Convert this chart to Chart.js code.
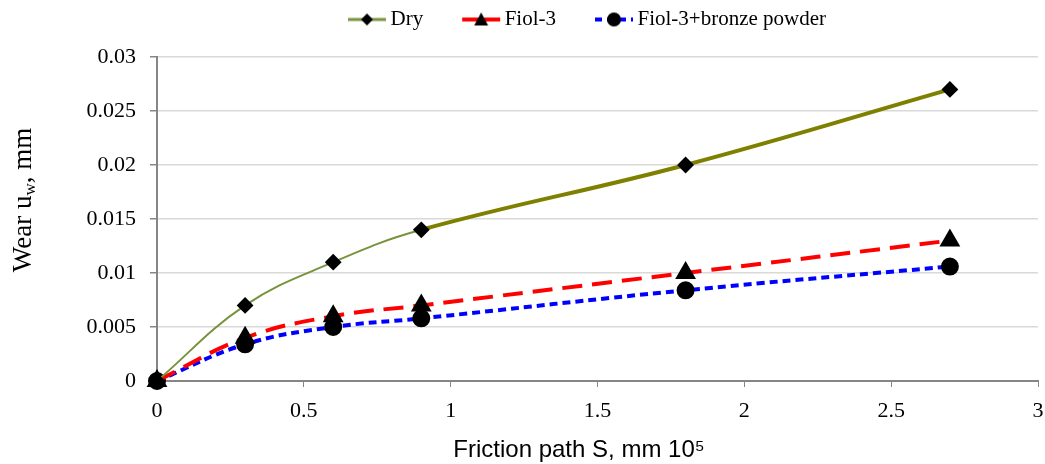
<!DOCTYPE html>
<html>
<head>
<meta charset="utf-8">
<script src="https://cdn.jsdelivr.net/npm/chart.js@4/dist/chart.umd.min.js"></script>
<style>
  html, body { margin: 0; padding: 0; background: #fff; }
  #wrap { width: 1045px; height: 464px; }
</style>
</head>
<body>
<div id="wrap"><canvas id="wearChart"></canvas></div>
<script>
// friction path, mm 10^5
const sPath = [0, 0.3, 0.6, 0.9, 1.8, 2.7];
// wear, mm
const wearDry = [0, 0.007, 0.011, 0.014, 0.020, 0.027];
const wearFiol = [0, 0.004, 0.006, 0.007, 0.010, 0.013];
const wearBronze = [0, 0.0034, 0.005, 0.0058, 0.0084, 0.0106];

const seriesNames = ['Dry', 'Fiol-3', 'Fiol-3+bronze powder'];
const xTicks = [0, 0.5, 1, 1.5, 2, 2.5, 3];
const yTicks = [0, 0.005, 0.01, 0.015, 0.02, 0.025, 0.03];
const xTitle = 'Friction path S, mm 10⁵';

const toPoints = ys => sPath.map((x, i) => ({ x: x, y: ys[i] }));

// line + marker picture for the legend. The legend box is 62 wide and the canvas
// (78 wide) is centred on it; the visible part sits on the right, close to the text,
// so the empty left part works as spacing between the items.
function legendIcon(color, dash, marker, width) {
  const c = document.createElement('canvas');
  c.width = 78; c.height = 18;
  const g = c.getContext('2d');
  g.strokeStyle = color;
  g.lineWidth = width;
  g.setLineDash(dash);
  g.beginPath(); g.moveTo(38, 9); g.lineTo(76, 9); g.stroke();
  g.setLineDash([]);
  g.fillStyle = '#000';
  g.beginPath();
  const m = 57;
  if (marker === 'diamond') {
    g.moveTo(m, 3); g.lineTo(m + 6, 9); g.lineTo(m, 15); g.lineTo(m - 6, 9);
  } else if (marker === 'triangle') {
    g.moveTo(m, 2); g.lineTo(m + 7, 15); g.lineTo(m - 7, 15);
  } else {
    g.arc(m, 9, 7, 0, Math.PI * 2);
  }
  g.closePath(); g.fill();
  return c;
}

const icons = [
  legendIcon('#77933c', [], 'diamond', 3),
  legendIcon('#ff0000', [], 'triangle', 4),
  legendIcon('#0000ff', [7, 5], 'circle', 4)
];

// axis titles: y one needs a subscript, x one sits a bit left of the plot centre
const axisTitles = {
  id: 'axisTitles',
  afterDraw(chart) {
    const ctx = chart.ctx;
    ctx.save();
    ctx.fillStyle = '#000';
    ctx.font = '24px "Liberation Sans"';
    ctx.textAlign = 'center';
    ctx.textBaseline = 'alphabetic';
    ctx.fillText(xTitle, 579, 457);

    ctx.textAlign = 'left';
    ctx.translate(24, 200);
    ctx.rotate(-Math.PI / 2);
    ctx.textBaseline = 'middle';
    const big = '27px "Liberation Serif"';
    const small = '17px "Liberation Serif"';
    ctx.font = big;
    const w1 = ctx.measureText('Wear u').width;
    const w3 = ctx.measureText(', mm').width;
    ctx.font = small;
    const w2 = ctx.measureText('w').width;
    let x = -(w1 + w2 + w3) / 2;
    ctx.font = big;
    ctx.fillText('Wear u', x, 0);
    x += w1;
    ctx.font = small;
    ctx.fillText('w', x, 7);
    x += w2;
    ctx.font = big;
    ctx.fillText(', mm', x, 0);
    ctx.restore();
  }
};

// legend sits higher and further right than Chart.js would put it
const moveLegend = {
  id: 'moveLegend',
  afterLayout(chart) {
    const lg = chart.legend;
    lg.left += 53;
    lg.right += 53;
    lg.top -= 17;
    lg.bottom -= 17;
  }
};

new Chart(document.getElementById('wearChart'), {
  type: 'line',
  data: {
    datasets: [{
      label: seriesNames[0],
      data: toPoints(wearDry),
      borderColor: '#77933c',
      borderWidth: 2,
      segment: {
        borderColor: c => c.p0DataIndex >= 3 ? '#7f7f00' : '#77933c',
        borderWidth: c => c.p0DataIndex >= 3 ? 4 : 2
      },
      pointStyle: 'rectRot',
      pointRadius: 7,
      pointBackgroundColor: '#000',
      pointBorderColor: '#000',
      tension: 0.4,
      fill: false
    }, {
      label: seriesNames[1],
      data: toPoints(wearFiol),
      borderColor: '#ff0000',
      borderWidth: 4,
      borderDash: [20, 10],
      pointStyle: 'triangle',
      pointRadius: 8,
      pointBackgroundColor: '#000',
      pointBorderColor: '#000',
      tension: 0.4,
      fill: false
    }, {
      label: seriesNames[2],
      data: toPoints(wearBronze),
      borderColor: '#0000ff',
      borderWidth: 4,
      borderDash: [8, 5],
      pointStyle: 'circle',
      pointRadius: 7,
      pointBackgroundColor: '#000',
      pointBorderColor: '#000',
      tension: 0.4,
      fill: false
    }]
  },
  options: {
    responsive: true,
    maintainAspectRatio: false,
    animation: false,
    clip: false,
    layout: { autoPadding: false, padding: { top: 17, right: 7, left: 0, bottom: 0 } },
    plugins: {
      tooltip: { enabled: false },
      legend: {
        position: 'top',
        labels: {
          usePointStyle: true,
          pointStyleWidth: 62,
          padding: 9,
          color: '#000',
          font: { family: 'Liberation Serif', size: 21 },
          generateLabels: chart => chart.data.datasets.map((ds, i) => ({
            text: ds.label,
            pointStyle: icons[i],
            fillStyle: '#000',
            strokeStyle: '#000',
            lineWidth: 0,
            datasetIndex: i,
            hidden: false
          }))
        }
      }
    },
    scales: {
      x: {
        type: 'linear',
        min: 0,
        max: 3,
        afterBuildTicks: s => { s.ticks = xTicks.map(v => ({ value: v })); },
        afterFit: s => { s.height = 83; s.paddingRight = 7; s.paddingLeft = 0; },
        grid: { drawOnChartArea: false, drawTicks: true, tickLength: 6, color: '#868686' },
        border: { color: '#868686', width: 2 },
        ticks: {
          color: '#000',
          padding: 11,
          font: { family: 'Liberation Serif', size: 22 },
          callback: v => String(v)
        }
      },
      y: {
        min: 0,
        max: 0.03,
        afterBuildTicks: s => { s.ticks = yTicks.map(v => ({ value: v })); },
        afterFit: s => { s.width = 157; },
        grid: { color: '#d9d9d9', lineWidth: 1.5, tickLength: 7, tickColor: '#868686' },
        border: { color: '#868686', width: 2 },
        ticks: {
          color: '#000',
          padding: 14,
          font: { family: 'Liberation Serif', size: 22 },
          callback: v => String(parseFloat(v.toFixed(4)))
        }
      }
    }
  },
  plugins: [axisTitles, moveLegend]
});
</script>
</body>
</html>
